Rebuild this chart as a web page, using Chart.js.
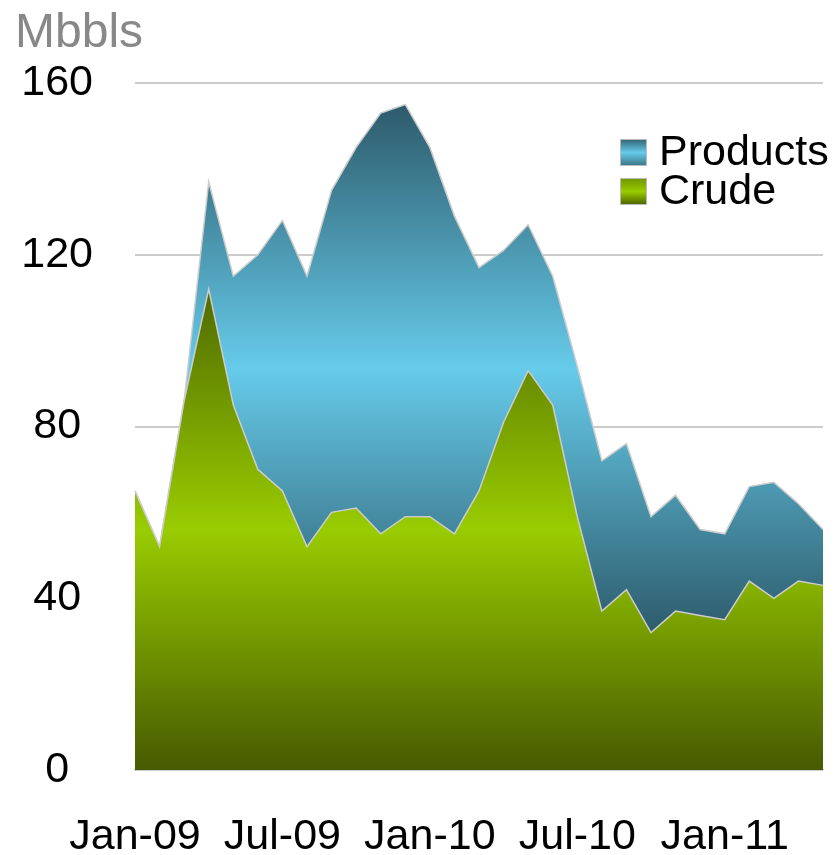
<!DOCTYPE html>
<html>
<head>
<meta charset="utf-8">
<script src="https://cdn.jsdelivr.net/npm/chart.js@4"></script>
<style>
  body { margin: 0; background: #fff; }
  #wrap { width: 839px; height: 855px; position: relative; }
</style>
</head>
<body>
<div id="wrap"><canvas id="stocksChart"></canvas></div>
<script>
// Monthly stocks, Jan-09 .. May-11 (Mbbls)
const months = ['Jan-09', 'Feb-09', 'Mar-09', 'Apr-09', 'May-09', 'Jun-09', 'Jul-09', 'Aug-09', 'Sep-09', 'Oct-09', 'Nov-09', 'Dec-09',
                'Jan-10', 'Feb-10', 'Mar-10', 'Apr-10', 'May-10', 'Jun-10', 'Jul-10', 'Aug-10', 'Sep-10', 'Oct-10', 'Nov-10', 'Dec-10',
                'Jan-11', 'Feb-11', 'Mar-11', 'Apr-11', 'May-11'];
const crude = [65, 52, 86, 112, 85, 70, 65, 52, 60, 61, 55, 59,
               59, 55, 65, 81, 93, 85, 59, 37, 42, 32, 37, 36,
               35, 44, 40, 44, 43];
const products = [0, 0, 0, 25, 30, 50, 63, 63, 75, 84, 98, 96,
                  86, 74, 52, 40, 34, 30, 35, 35, 34, 27, 27, 20,
                  20, 22, 27, 18, 13];
const yTicks = [0, 40, 80, 120, 160];
const shownLabels = ['Jan-09', 'Jul-09', 'Jan-10', 'Jul-10', 'Jan-11'];

const FONT = '"Liberation Sans", Arial, sans-serif';

// vertical gradient dark -> light -> dark between two data values
function bandGradient(ctx, chart, topVal, botVal, dark1, light, dark2) {
    const y = chart.scales.y;
    const g = ctx.createLinearGradient(0, y.getPixelForValue(topVal), 0, y.getPixelForValue(botVal));
    g.addColorStop(0, dark1);
    g.addColorStop(0.5, light);
    g.addColorStop(1, dark2);
    return g;
}

const totals = crude.map((c, i) => c + products[i]);

// legend drawn inside the plot, top right, plus the unit label
const innerLegend = {
    id: 'innerLegend',
    afterDatasetsDraw(chart) {
        const ctx = chart.ctx;
        const items = [
            { label: chart.data.datasets[1].label, c: ['#2f6072', '#66cbea', '#3a7386'] },
            { label: chart.data.datasets[0].label, c: ['#6f9400', '#99cc00', '#4a6000'] }
        ];
        ctx.save();
        ctx.font = '43px ' + FONT;
        ctx.textBaseline = 'middle';
        items.forEach((it, i) => {
            const top = 139 + i * 39;
            const g = ctx.createLinearGradient(0, top, 0, top + 27);
            g.addColorStop(0, it.c[0]);
            g.addColorStop(0.5, it.c[1]);
            g.addColorStop(1, it.c[2]);
            ctx.fillStyle = g;
            ctx.fillRect(620, top, 27, 27);
            ctx.strokeStyle = '#bbbbbb';
            ctx.lineWidth = 1;
            ctx.strokeRect(620.5, top + 0.5, 26, 26);
            ctx.fillStyle = '#000';
            ctx.fillText(it.label, 659, top + 14);
        });
        ctx.font = '48px ' + FONT;
        ctx.fillStyle = '#888888';
        ctx.textBaseline = 'alphabetic';
        ctx.fillText('Mbbls', 15, 47);
        ctx.restore();
    }
};

const ctxStocks = document.getElementById('stocksChart').getContext('2d');
const stocksChart = new Chart(ctxStocks, {
    type: 'line',
    data: {
        labels: months,
        datasets: [{
            label: 'Crude',
            data: crude,
            fill: 'origin',
            backgroundColor: (c) => {
                const chart = c.chart;
                if (!chart.chartArea) return '#99cc00';
                return bandGradient(chart.ctx, chart, Math.max(...crude), 0, '#4f6a00', '#99cc00', '#465a00');
            },
            borderColor: '#cccccc',
            borderWidth: 1.5,
            pointRadius: 0,
            tension: 0
        }, {
            label: 'Products',
            data: products,
            fill: '-1',
            backgroundColor: (c) => {
                const chart = c.chart;
                if (!chart.chartArea) return '#66cbea';
                return bandGradient(chart.ctx, chart, Math.max(...totals), Math.min(...crude), '#2d5b6b', '#66cbea', '#2d5b6b');
            },
            borderColor: '#cccccc',
            borderWidth: 1.5,
            pointRadius: 0,
            tension: 0
        }]
    },
    options: {
        responsive: true,
        maintainAspectRatio: false,
        animation: false,
        layout: { autoPadding: false, padding: { top: 83, right: 16, bottom: 0, left: 0 } },
        plugins: {
            legend: { display: false },
            tooltip: { enabled: false }
        },
        scales: {
            x: {
                offset: false,
                afterFit: (s) => { s.height = 85; s.paddingLeft = 0; s.paddingRight = 0; },
                grid: { display: false, drawTicks: false },
                border: { display: true, color: '#cccccc', width: 1.5 },
                ticks: {
                    autoSkip: false,
                    maxRotation: 0,
                    minRotation: 0,
                    padding: 41,
                    color: '#000',
                    font: { family: FONT, size: 43 },
                    callback: function (v) {
                        const lab = this.getLabelForValue(v);
                        return shownLabels.includes(lab) ? lab : '';
                    }
                }
            },
            y: {
                stacked: true,
                min: 0,
                max: 160,
                afterFit: (s) => { s.width = 135; },
                afterBuildTicks: (s) => { s.ticks = yTicks.map(v => ({ value: v })); },
                grid: { color: '#cccccc', lineWidth: 2, drawTicks: false },
                border: { display: false },
                ticks: {
                    crossAlign: 'center',
                    padding: 42,
                    color: '#000',
                    font: { family: FONT, size: 43 }
                }
            }
        }
    },
    plugins: [innerLegend]
});
</script>
</body>
</html>
